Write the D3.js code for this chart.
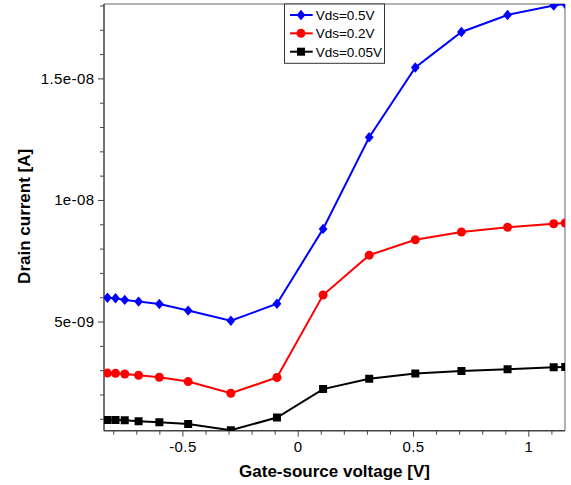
<!DOCTYPE html>
<html>
<head>
<meta charset="utf-8">
<script src="https://cdn.jsdelivr.net/npm/d3@7"></script>
<style>
html,body{margin:0;padding:0;background:#fff;}
svg{display:block;}
text{font-family:"Liberation Sans",Arial,sans-serif;}
</style>
</head>
<body>
<svg id="chart" width="571" height="485"></svg>
<script>
// ---- data ----
const vgs = [-0.825, -0.79, -0.75, -0.69, -0.6, -0.475, -0.29, -0.09, 0.11, 0.31, 0.51, 0.71, 0.91, 1.11, 1.16];
const id_vds05  = [5.98e-9, 5.96e-9, 5.89e-9, 5.82e-9, 5.72e-9, 5.45e-9, 5.03e-9, 5.73e-9, 8.81e-9, 12.58e-9, 15.45e-9, 16.91e-9, 17.61e-9, 18.0e-9, 18.06e-9];
const id_vds02  = [2.88e-9, 2.87e-9, 2.84e-9, 2.79e-9, 2.71e-9, 2.53e-9, 2.05e-9, 2.70e-9, 6.09e-9, 7.73e-9, 8.36e-9, 8.68e-9, 8.88e-9, 9.02e-9, 9.05e-9];
const id_vds005 = [0.955e-9, 0.95e-9, 0.94e-9, 0.90e-9, 0.86e-9, 0.79e-9, 0.53e-9, 1.05e-9, 2.22e-9, 2.65e-9, 2.86e-9, 2.97e-9, 3.04e-9, 3.12e-9, 3.13e-9];
const seriesNames = ["Vds=0.5V", "Vds=0.2V", "Vds=0.05V"];
const xTickValues = [-0.5, 0, 0.5, 1];
const xTickLabels = ["-0.5", "0", "0.5", "1"];
const yTickValues = [5e-9, 1e-8, 1.5e-8];
const yTickLabels = ["5e-09", "1e-08", "1.5e-08"];
const xTitle = "Gate-source voltage [V]";
const yTitle = "Drain current [A]";

// ---- layout ----
const L = 104, R = 565, T = 4, B = 430.7;
const svg = d3.select("#chart");
const x = d3.scaleLinear().domain([-0.84, 1.159]).range([L, R]);
const y = d3.scaleLinear().domain([0.51e-9, 18.06e-9]).range([B, T]);

const series = [
  {name: seriesNames[0], values: id_vds05, color: "#0000ff", shape: "diamond"},
  {name: seriesNames[1], values: id_vds02, color: "#ff0000", shape: "circle"},
  {name: seriesNames[2], values: id_vds005, color: "#000000", shape: "square"}
];

function markerPath(shape) {
  if (shape === "diamond") return "M0,-5.2L4.4,0L0,5.2L-4.4,0Z";
  if (shape === "square") return "M-4,-4H4V4H-4Z";
  return d3.symbol(d3.symbolCircle, 64)();
}

svg.append("defs").append("clipPath").attr("id", "clip")
  .append("rect").attr("x", L).attr("y", T).attr("width", R - L).attr("height", B - T);

// minor ticks
const xMinor = d3.range(-8, 12).map(d => d / 10).filter(d => xTickValues.indexOf(d) < 0);
const yMinor = d3.range(1, 19).map(d => d * 1e-9).filter(d => yTickValues.every(v => Math.abs(v - d) > 1e-12));

const gx = svg.append("g").attr("transform", `translate(0,${B})`);
gx.call(d3.axisBottom(x).tickValues(xMinor).tickSize(4).tickFormat(""));
gx.select(".domain").remove();
const gx2 = svg.append("g").attr("transform", `translate(0,${B})`);
gx2.call(d3.axisBottom(x).tickValues(xTickValues).tickSize(6).tickPadding(5)
  .tickFormat((d, i) => xTickLabels[i]));
gx2.select(".domain").remove();

const gy = svg.append("g").attr("transform", `translate(${L},0)`);
gy.call(d3.axisLeft(y).tickValues(yMinor).tickSize(4).tickFormat(""));
gy.select(".domain").remove();
const gy2 = svg.append("g").attr("transform", `translate(${L},0)`);
gy2.call(d3.axisLeft(y).tickValues(yTickValues).tickSize(6).tickPadding(3.5)
  .tickFormat((d, i) => yTickLabels[i]));
gy2.select(".domain").remove();

svg.selectAll(".tick line").attr("stroke", "#444").attr("stroke-width", 1);
svg.selectAll(".tick text").attr("fill", "#000").style("font-size", "15px")
  .style("letter-spacing", "0.4px").style("font-family", "'Liberation Sans',Arial,sans-serif");

// frame
svg.append("line").attr("x1", L).attr("x2", R).attr("y1", T).attr("y2", T).attr("stroke", "#999").attr("stroke-width", 1.5);
svg.append("line").attr("x1", R).attr("x2", R).attr("y1", T).attr("y2", B).attr("stroke", "#999").attr("stroke-width", 1.5);
svg.append("line").attr("x1", L).attr("x2", R).attr("y1", B).attr("y2", B).attr("stroke", "#444").attr("stroke-width", 1.5);
svg.append("line").attr("x1", L).attr("x2", L).attr("y1", T).attr("y2", B).attr("stroke", "#444").attr("stroke-width", 1.5);

// data
const plot = svg.append("g").attr("clip-path", "url(#clip)");
const line = d3.line().x((d, i) => x(vgs[i])).y(d => y(d));
series.forEach(s => {
  plot.append("path").datum(s.values).attr("d", line)
    .attr("fill", "none").attr("stroke", s.color).attr("stroke-width", 2);
  plot.selectAll(null).data(s.values).enter().append("path")
    .attr("transform", (d, i) => `translate(${x(vgs[i])},${y(d)})`)
    .attr("d", markerPath(s.shape)).attr("fill", s.color);
});

// axis titles
svg.append("text").attr("x", (L + R) / 2).attr("y", 476.5).attr("text-anchor", "middle")
  .style("font-size", "17px").style("font-weight", "bold").text(xTitle);
svg.append("text").attr("transform", `translate(30,${(T + B) / 2 - 1}) rotate(-90)`)
  .attr("text-anchor", "middle").style("font-size", "17px").style("font-weight", "bold").text(yTitle);

// legend
const lg = svg.append("g");
lg.append("rect").attr("x", 284.5).attr("y", T).attr("width", 100).attr("height", 59.3)
  .attr("fill", "#fff").attr("stroke", "#333").attr("stroke-width", 1);
series.forEach((s, i) => {
  const cy = 15 + i * 18.35;
  lg.append("line").attr("x1", 290).attr("x2", 312.7).attr("y1", cy).attr("y2", cy)
    .attr("stroke", s.color).attr("stroke-width", 2);
  lg.append("path").attr("transform", `translate(301,${cy})`).attr("d", markerPath(s.shape)).attr("fill", s.color);
  lg.append("text").attr("x", 315.7).attr("y", cy + 5).style("font-size", "13.5px").text(s.name);
});
</script>
</body>
</html>
